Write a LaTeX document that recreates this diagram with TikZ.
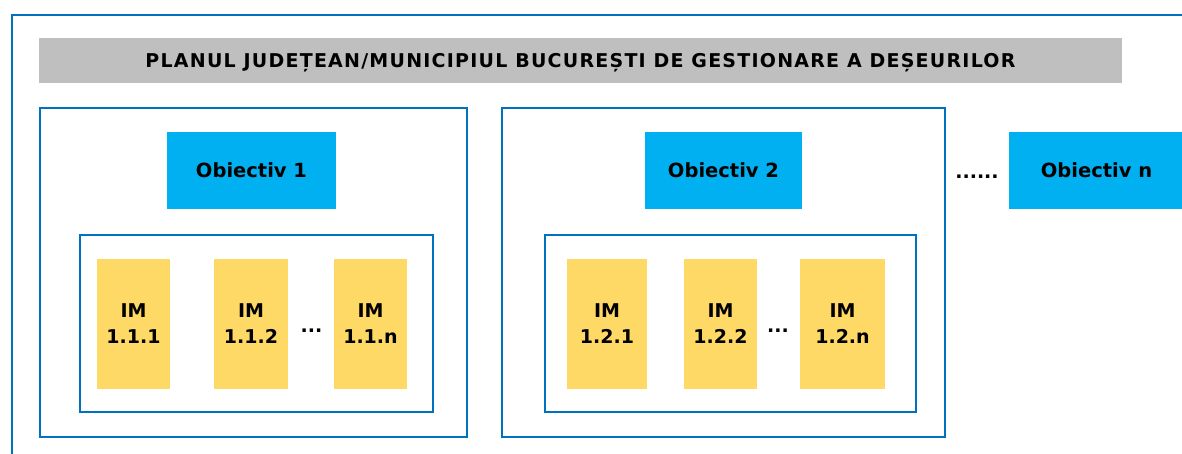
\documentclass[tikz,border=0pt]{standalone}
\usepackage{fontspec}
\setmainfont{DejaVu Sans}
\usepackage{tikz}
\usetikzlibrary{positioning}
\usepackage{xcolor}
\definecolor{lineblue}{HTML}{0070C0}
\definecolor{objblue}{HTML}{00B0F0}
\definecolor{imyellow}{HTML}{FFD966}
\definecolor{bargray}{HTML}{BFBFBF}
\begin{document}
\begin{tikzpicture}[x=1pt,y=-1pt]
    %styles
    \tikzstyle{titlebar}=[rectangle,fill=bargray,inner sep=0pt,text depth=0pt,font=\fontsize{19}{22}\selectfont\bfseries\addfontfeature{LetterSpace=6.5}]
    \tikzstyle{group}=[rectangle,draw=lineblue,line width=2.5pt,inner sep=0pt]
    \tikzstyle{objbox}=[rectangle,fill=objblue,inner sep=0pt,minimum height=77pt,font=\fontsize{19.5}{22}\selectfont\bfseries]
    \tikzstyle{imbox}=[rectangle,fill=imyellow,inner sep=0pt,minimum height=130pt,align=center,font=\fontsize{19}{26}\selectfont\bfseries]
    \tikzstyle{dots}=[inner sep=0pt,anchor=base,font=\fontsize{19}{22}\selectfont\bfseries]
    \useasboundingbox (0,0) rectangle (1182,453);
    %frame
    \draw[lineblue,line width=2.5pt] (12,470) |- (1200,15);
    %title
    \node[titlebar,minimum width=1083pt,minimum height=45pt] (title) at (580.5,60.5) {PLANUL JUDEȚEAN/MUNICIPIUL BUCUREȘTI DE GESTIONARE A DEȘEURILOR};
    %groups
    \node[group,minimum width=427pt,minimum height=329pt] (g1) at (253.5,272.5) {};
    \node[group,minimum width=443pt,minimum height=329pt] (g2) at (723.5,272.5) {};
    \node[group,minimum width=353pt,minimum height=177pt] (in1) at (256.5,323.5) {};
    \node[group,minimum width=371pt,minimum height=177pt] (in2) at (730.5,323.5) {};
    %objectives
    \node[objbox,minimum width=169pt] (o1) at (251.5,170.5) {Obiectiv 1};
    \node[objbox,minimum width=157pt] (o2) at (723.5,170.5) {Obiectiv 2};
    \node[objbox,minimum width=175pt] (on) at (1096.5,170.5) {Obiectiv n};
    \node[dots] (odots) at (977,178.5) {......};
    %measures
    \node[imbox,minimum width=73pt] (im111) at (133.5,324) {IM\\1.1.1};
    \node[imbox,minimum width=74pt] (im112) at (251,324) {IM\\1.1.2};
    \node[imbox,minimum width=73pt] (im11n) at (370.5,324) {IM\\1.1.n};
    \node[dots] (d1) at (311.5,332) {...};
    \node[imbox,minimum width=80pt] (im121) at (607,324) {IM\\1.2.1};
    \node[imbox,minimum width=73pt] (im122) at (720.5,324) {IM\\1.2.2};
    \node[imbox,minimum width=85pt] (im12n) at (842.5,324) {IM\\1.2.n};
    \node[dots] (d2) at (778,332) {...};
\end{tikzpicture}
\end{document}
